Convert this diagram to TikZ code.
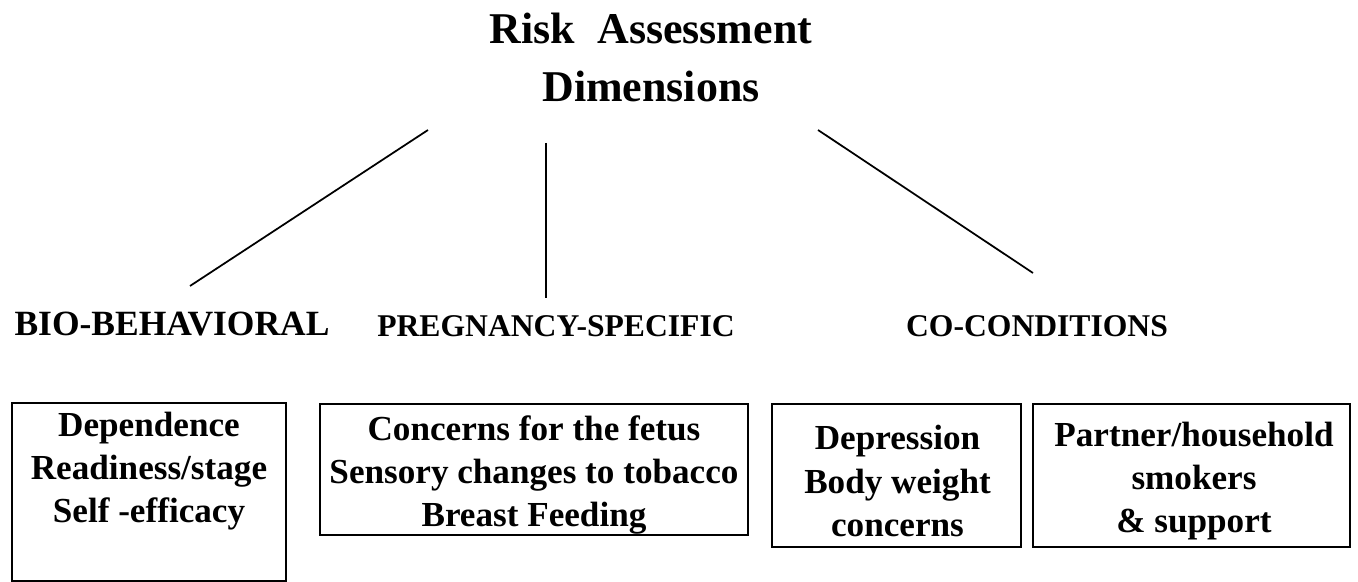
\documentclass[tikz,border=0pt]{standalone}
\usepackage{fontspec}
\setmainfont{Liberation Serif}
\usepackage{tikz}
\usetikzlibrary{positioning}

\tikzset{
  connector/.style={line width=1pt},
  dimlabel/.style={font=\fontsize{18}{22}\selectfont\bfseries},
  itembox/.style={draw, line width=1pt, inner sep=0pt},
  boxtext/.style={align=center, inner sep=0pt, font=\fontsize{20}{24.5}\selectfont\bfseries}
}

\begin{document}
\begin{tikzpicture}
	\useasboundingbox (0,0) rectangle (27.16,11.64);

	% Title
	\node[align=center, font=\fontsize{25}{33}\selectfont\bfseries] (title) at (13.02,10.5) {Risk\ \ Assessment\\Dimensions};

	% Dimensions
	\node[dimlabel, font=\fontsize{20.2}{24}\selectfont\bfseries] (bio) at (3.44,5.16) {BIO-BEHAVIORAL};
	\node[dimlabel] (preg) at (11.12,5.12) {PREGNANCY-SPECIFIC};
	\node[dimlabel] (cocond) at (20.74,5.12) {CO-CONDITIONS};

	% Lines
	\coordinate (bioTop) at (8.56,9.04);
	\coordinate (bioEnd) at (3.8,5.92);
	\coordinate (pregTop) at (10.92,8.78);
	\coordinate (pregEnd) at (10.92,5.68);
	\coordinate (coTop) at (16.36,9.04);
	\coordinate (coEnd) at (20.66,6.18);
	\draw[connector] (bioTop) -- (bioEnd);
	\draw[connector] (pregTop) -- (pregEnd);
	\draw[connector] (coTop) -- (coEnd);

	% Boxes
	\node[itembox, minimum width=5.48cm, minimum height=3.56cm] (bioBox) at (2.98,1.80) {};
	\node[boxtext] (bioText) at (2.98,2.22) {Dependence\\Readiness/stage\\Self -efficacy};

	\node[itembox, minimum width=8.56cm, minimum height=2.62cm] (pregBox) at (10.68,2.25) {};
	\node[boxtext] (pregText) at (10.68,2.14) {Concerns for the fetus\\Sensory changes to tobacco\\Breast Feeding};

	\node[itembox, minimum width=4.98cm, minimum height=2.86cm] (moodBox) at (17.93,2.13) {};
	\node[boxtext] (moodText) at (17.95,2.02) {Depression\\Body weight\\concerns};

	\node[itembox, minimum width=6.34cm, minimum height=2.86cm] (homeBox) at (23.83,2.13) {};
	\node[boxtext] (homeText) at (23.88,2.02) {Partner/household\\smokers\\\& support};
\end{tikzpicture}
\end{document}
